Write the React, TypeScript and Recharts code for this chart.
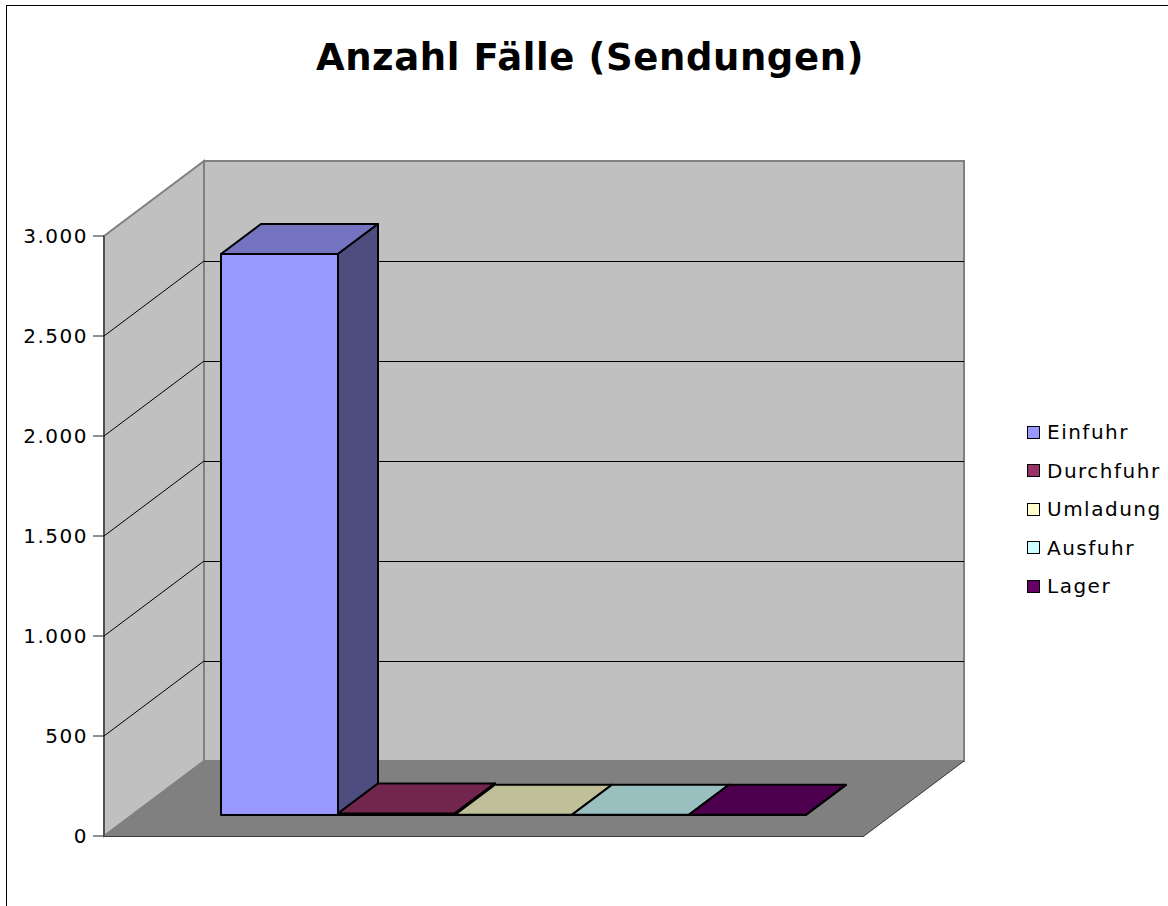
import React from 'react';
import { BarChart, Bar, XAxis, YAxis, Legend, usePlotArea } from 'recharts';

const seriesNames = ['Einfuhr', 'Durchfuhr', 'Umladung', 'Ausfuhr', 'Lager'];
const seriesValues = [2805, 8, 1, 1, 1];
const seriesColors = ['#9999FF', '#993366', '#FFFFCC', '#CCFFFF', '#660066'];
const topColors = ['#7373BF', '#73264D', '#BFBF99', '#99BFBF', '#4D004D'];
const sideColors = ['#4D4D80', '#4D1A33', '#808066', '#668080', '#330033'];
const yTicks = [0, 500, 1000, 1500, 2000, 2500, 3000];
const yMax = 3000;

const chartData = [
  Object.fromEntries([['name', 'Anzahl'], ...seriesNames.map((n, i) => [n, seriesValues[i]])]),
];

// depth of the fake 3d box and of the bars inside it
const WALL_DX = 100;
const WALL_DY = 75;
const BAR_OFFSET_X = 29;
const BAR_OFFSET_Y = 21;
const BAR_DX = 40;
const BAR_DY = 30;

const FONT = '"DejaVu Sans", sans-serif';

const pts = (list: number[][]) => list.map(p => p.join(',')).join(' ');

const Walls = () => {
  const plot = usePlotArea();
  if (!plot) return null;
  const { x, y, width, height } = plot;
  const right = x + width;
  const bottom = y + height;
  return (
    <g>
      <rect x={6.5} y={5.5} width={1300} height={1100} fill="#fff" stroke="#000" strokeWidth={1} />
      <text
        x={590}
        y={70}
        textAnchor="middle"
        fontFamily={FONT}
        fontWeight="bold"
        fontSize={37}
        letterSpacing={0.6}
        fill="#000"
      >
        Anzahl Fälle (Sendungen)
      </text>
      <polygon
        points={pts([[x, y], [x + WALL_DX, y - WALL_DY], [x + WALL_DX, bottom - WALL_DY], [x, bottom]])}
        fill="#C0C0C0"
        stroke="#808080"
        strokeWidth={2}
      />
      <polygon
        points={pts([[x + WALL_DX, y - WALL_DY], [right + WALL_DX, y - WALL_DY], [right + WALL_DX, bottom - WALL_DY], [x + WALL_DX, bottom - WALL_DY]])}
        fill="#C0C0C0"
        stroke="#808080"
        strokeWidth={2}
      />
      <polygon
        points={pts([[x, bottom], [x + WALL_DX, bottom - WALL_DY], [right + WALL_DX, bottom - WALL_DY], [right, bottom]])}
        fill="#808080"
      />
      <line x1={right} y1={bottom} x2={right + WALL_DX} y2={bottom - WALL_DY} stroke="#333" />
      <line x1={x} y1={bottom + 0.5} x2={right} y2={bottom + 0.5} stroke="#404040" />
      {yTicks
        .filter(t => t > 0 && t < yMax)
        .map(t => {
          const gy = y + height * (1 - t / yMax);
          return (
            <g key={t} stroke="#000" strokeWidth={1}>
              <line x1={x} y1={gy} x2={x + WALL_DX} y2={gy - WALL_DY} />
              <line x1={x + WALL_DX} y1={gy - WALL_DY + 0.5} x2={right + WALL_DX} y2={gy - WALL_DY + 0.5} />
            </g>
          );
        })}
    </g>
  );
};

const Bar3D = (props: any) => {
  const { x, y, width, height, colorIndex } = props;
  const left = x + BAR_OFFSET_X;
  const top = y - BAR_OFFSET_Y;
  const rightX = left + width;
  const bot = top + height;
  return (
    <g stroke="#000" strokeWidth={2} strokeLinejoin="round">
      <rect x={left} y={top} width={width} height={height} fill={seriesColors[colorIndex]} />
      <polygon
        points={pts([[left, top], [left + BAR_DX, top - BAR_DY], [rightX + BAR_DX, top - BAR_DY], [rightX, top]])}
        fill={topColors[colorIndex]}
      />
      <polygon
        points={pts([[rightX, top], [rightX + BAR_DX, top - BAR_DY], [rightX + BAR_DX, bot - BAR_DY], [rightX, bot]])}
        fill={sideColors[colorIndex]}
      />
    </g>
  );
};

const LegendBox = ({ payload }: any) => (
  <div style={{ fontFamily: FONT, fontSize: 20, letterSpacing: 1.5, color: '#000' }}>
    {(payload || []).map((entry: any) => (
      <div key={entry.value} style={{ display: 'flex', alignItems: 'center', height: 38.5, whiteSpace: 'nowrap' }}>
        <span
          style={{
            display: 'inline-block',
            width: 11,
            height: 11,
            background: entry.color,
            border: '1.5px solid #000',
            marginRight: 7,
          }}
        />
        {entry.value}
      </div>
    ))}
  </div>
);

export default function App() {
  return (
    <div style={{ position: 'absolute', left: 0, top: 0, width: 1168, height: 906, overflow: 'hidden' }}>
      <BarChart
        width={1168}
        height={906}
        data={chartData}
        margin={{ top: 236, right: 304, bottom: 70, left: 0 }}
        barCategoryGap={88}
        barGap={0}
      >
        <Walls />
        <XAxis dataKey="name" hide height={0} />
        <YAxis
          width={104}
          domain={[0, yMax]}
          ticks={yTicks}
          tickSize={11}
          tickMargin={5}
          stroke="#222"
          tick={{ fill: '#000', fontFamily: FONT, fontSize: 20, letterSpacing: 1.5 }}
          tickFormatter={(v: number) => v.toLocaleString('de-DE')}
        />
        <Legend
          layout="vertical"
          align="center"
          verticalAlign="middle"
          itemSorter={null}
          wrapperStyle={{ left: 1027, top: 413, width: 141 }}
          content={<LegendBox />}
        />
        {seriesNames.map((name, i) => (
          <Bar
            key={name}
            dataKey={name}
            name={name}
            fill={seriesColors[i]}
            isAnimationActive={false}
            shape={(p: any) => <Bar3D {...p} colorIndex={i} />}
          />
        ))}
      </BarChart>
    </div>
  );
}
